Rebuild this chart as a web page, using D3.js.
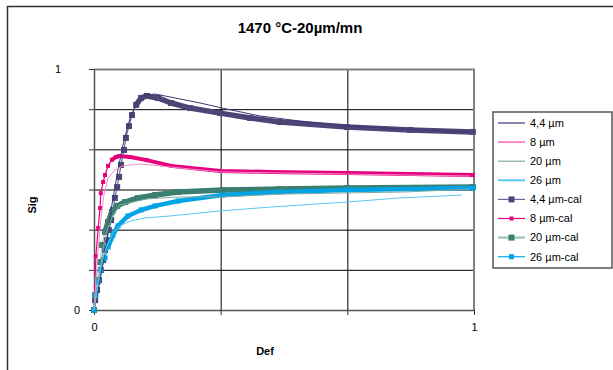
<!DOCTYPE html>
<html>
<head>
<meta charset="utf-8">
<script src="https://cdn.jsdelivr.net/npm/d3@7"></script>
<style>
  body { margin: 0; background: #fff; }
  text { font-family: "Liberation Sans", Arial, sans-serif; }
</style>
</head>
<body>
<div id="chart"></div>
<script>
// series data: [Def, Sig]
var s44 = [[0,0],[0.016,0.124],[0.032,0.270],[0.047,0.436],[0.063,0.581],[0.079,0.705],[0.095,0.797],
  [0.113,0.863],[0.134,0.892],[0.161,0.896],[0.200,0.884],[0.279,0.859],[0.337,0.838],[0.437,0.805],
  [0.542,0.784],[0.666,0.763],[0.858,0.747],[0.989,0.739]];
var s8 = [[0,0],[0.005,0.124],[0.011,0.249],[0.018,0.373],[0.026,0.477],[0.037,0.548],[0.055,0.581],
  [0.076,0.598],[0.121,0.606],[0.203,0.593],[0.332,0.573],[0.666,0.564],[0.989,0.556]];
var s20 = [[0,0],[0.008,0.083],[0.016,0.166],[0.026,0.270],[0.037,0.340],[0.050,0.394],[0.068,0.436],
  [0.139,0.461],[0.226,0.469],[0.339,0.469],[0.489,0.481],[0.824,0.490],[0.989,0.502]];
var s26 = [[0,0],[0.008,0.083],[0.016,0.166],[0.026,0.228],[0.037,0.278],[0.050,0.320],[0.068,0.349],
  [0.095,0.369],[0.134,0.382],[0.200,0.390],[0.332,0.411],[0.463,0.427],[0.666,0.448],[0.805,0.465],[0.968,0.477]];

var c44 = [[0,0],[0.003,0.041],[0.008,0.083],[0.013,0.124],[0.018,0.166],[0.024,0.207],[0.029,0.249],
  [0.034,0.290],[0.039,0.332],[0.045,0.373],[0.050,0.415],[0.055,0.465],[0.061,0.510],[0.066,0.552],
  [0.071,0.602],[0.079,0.664],[0.084,0.714],[0.092,0.763],[0.100,0.809],[0.111,0.851],[0.124,0.880],
  [0.139,0.888],[0.168,0.880],[0.203,0.859],[0.253,0.838],[0.332,0.817],[0.411,0.797],[0.489,0.780],
  [0.666,0.759],[0.832,0.747],[0.997,0.739]];
var c8 = [[0,0],[0.005,0.224],[0.011,0.340],[0.016,0.423],[0.018,0.485],[0.024,0.531],[0.029,0.560],
  [0.037,0.598],[0.047,0.623],[0.058,0.635],[0.068,0.639],[0.095,0.635],[0.139,0.622],[0.203,0.598],
  [0.332,0.577],[0.463,0.573],[0.666,0.568],[0.997,0.560]];
var c20 = [[0,0],[0.003,0.062],[0.008,0.124],[0.016,0.199],[0.021,0.270],[0.029,0.324],[0.037,0.365],
  [0.047,0.407],[0.061,0.432],[0.082,0.448],[0.116,0.465],[0.161,0.477],[0.221,0.490],[0.339,0.498],
  [0.489,0.502],[0.666,0.506],[0.997,0.510]];
var c26 = [[0,0],[0.005,0.062],[0.011,0.116],[0.018,0.166],[0.029,0.216],[0.037,0.261],[0.050,0.311],
  [0.063,0.349],[0.089,0.390],[0.124,0.415],[0.161,0.432],[0.221,0.452],[0.339,0.477],[0.489,0.490],
  [0.666,0.498],[0.997,0.506]];

var names = ["4,4 µm", "8 µm", "20 µm", "26 µm", "4,4 µm-cal", "8 µm-cal", "20 µm-cal", "26 µm-cal"];
var xTicks = [0, 1/3, 2/3, 1];
var yTicks = [0, 1/6, 2/6, 3/6, 4/6, 5/6, 1];

// styles
var thin = [
  {data: s44, color: "#3a3a78", w: 1},
  {data: s8,  color: "#f48cc6", w: 1},
  {data: s20, color: "#7fa9a0", w: 1},
  {data: s26, color: "#5cc6f0", w: 1}
];
// dense = index from which the markers overlap into a solid band
var cal = [
  {data: c44, line: "#6b6b9b", mark: "#4b4676", band: 5.5, size: 6, dense: 19},
  {data: c8,  line: "#e6007e", mark: "#e6007e", band: 4, size: 4, dense: 8},
  {data: c20, line: "#a8c8bf", mark: "#3a7f70", band: 5.5, size: 6, dense: 5},
  {data: c26, line: "#00aeef", mark: "#00a4e4", band: 4.5, size: 5, dense: 5}
];

var margin = {top: 69, left: 94},
    width = 380, height = 241;

var svg = d3.select("#chart").append("svg")
  .attr("width", 613).attr("height", 370);

// chart frame
svg.append("path")
  .attr("d", "M7.5,370 V6.5 H613")
  .attr("fill", "none").attr("stroke", "#333").attr("stroke-width", 1.5);

svg.append("text").attr("x", 300).attr("y", 33)
  .attr("text-anchor", "middle").attr("font-size", 15).attr("font-weight", "bold")
  .text("1470 °C-20µm/mn");

var g = svg.append("g").attr("transform", "translate(" + margin.left + "," + margin.top + ")");

var x = d3.scaleLinear().domain([0, 1]).range([0, width]);
var y = d3.scaleLinear().domain([0, 1]).range([height, 0]);

// gridlines
g.append("g").attr("class", "grid")
  .call(d3.axisLeft(y).tickValues(yTicks).tickSize(-width).tickFormat(""))
  .call(function(s) { s.select(".domain").remove(); s.selectAll("line").attr("stroke", "#000"); });
g.append("g").attr("class", "grid").attr("transform", "translate(0," + height + ")")
  .call(d3.axisBottom(x).tickValues(xTicks).tickSize(-height).tickFormat(""))
  .call(function(s) { s.select(".domain").remove(); s.selectAll("line").attr("stroke", "#000"); });

// plot area border (top/right)
g.append("path").attr("d", "M0," + 0.5 + " H" + width + " V" + height)
  .attr("fill", "none").attr("stroke", "#808080").attr("stroke-width", 2);

// axes
var lbl = function(d) { return (d === 0 || d === 1) ? d3.format("d")(d) : ""; };
var xAxis = g.append("g").attr("transform", "translate(0," + height + ")")
  .call(d3.axisBottom(x).tickValues(xTicks).tickSize(5).tickSizeOuter(0).tickFormat(lbl));
var yAxis = g.append("g")
  .call(d3.axisLeft(y).tickValues(yTicks).tickSize(5).tickSizeOuter(0).tickFormat(lbl));
[xAxis, yAxis].forEach(function(a) {
  a.select(".domain").attr("stroke", "#555").attr("stroke-width", 1.5);
  a.selectAll("line").attr("stroke", "#333");
  a.selectAll("text").attr("font-size", 11).attr("fill", "#000")
    .style("font-family", "'Liberation Sans', Arial, sans-serif");
});
xAxis.selectAll("text").attr("dy", "1.2em");
yAxis.selectAll("text").attr("x", -14);
yAxis.selectAll(".tick").filter(function(d) { return d === 1; }).select("text").attr("x", -33);

svg.append("text").attr("x", 265).attr("y", 355)
  .attr("text-anchor", "middle").attr("font-size", 11).attr("font-weight", "bold").text("Def");
svg.append("text").attr("transform", "translate(36,205) rotate(-90)")
  .attr("text-anchor", "middle").attr("font-size", 11).attr("font-weight", "bold").text("Sig");

var line = d3.line().x(function(d) { return x(d[0]); }).y(function(d) { return y(d[1]); });

// calculated series: thin line + markers; where markers crowd they form a band
cal.forEach(function(c) {
  g.append("path").datum(c.data).attr("d", line)
    .attr("fill", "none").attr("stroke", c.line).attr("stroke-width", 1.2);
  g.append("path").datum(c.data.slice(c.dense)).attr("d", line)
    .attr("fill", "none").attr("stroke", c.mark).attr("stroke-width", c.band)
    .attr("stroke-linejoin", "round");
  g.selectAll(null).data(c.data).enter().append("rect")
    .attr("x", function(d) { return x(d[0]) - c.size / 2; })
    .attr("y", function(d) { return y(d[1]) - c.size / 2; })
    .attr("width", c.size).attr("height", c.size)
    .attr("fill", c.mark);
});

// measured series
thin.forEach(function(t) {
  g.append("path").datum(t.data).attr("d", line)
    .attr("fill", "none").attr("stroke", t.color).attr("stroke-width", t.w);
});

// legend
var lg = svg.append("g").attr("transform", "translate(493,112)");
lg.append("rect").attr("x", 0).attr("y", 0).attr("width", 119).attr("height", 156)
  .attr("fill", "#fff").attr("stroke", "#555").attr("stroke-width", 1.5);
var rows = lg.selectAll(".row").data(names).enter().append("g")
  .attr("transform", function(d, i) { return "translate(0," + (11 + i * 19.1) + ")"; });
rows.append("line").attr("x1", 5).attr("x2", 32).attr("y1", 0).attr("y2", 0)
  .attr("stroke", function(d, i) { return i < 4 ? thin[i].color : cal[i - 4].line; })
  .attr("stroke-width", function(d, i) { return i === 1 || i === 3 ? 2 : (i === 6 ? 2.5 : 1.2); });
rows.filter(function(d, i) { return i >= 4; }).append("rect")
  .attr("x", function(d, i) { return 18.5 - cal[i].size / 2; })
  .attr("y", function(d, i) { return -cal[i].size / 2; })
  .attr("width", function(d, i) { return cal[i].size; })
  .attr("height", function(d, i) { return cal[i].size; })
  .attr("fill", function(d, i) { return cal[i].mark; });
rows.append("text").attr("x", 37).attr("dy", "0.35em").attr("font-size", 11).text(function(d) { return d; });
</script>
</body>
</html>
